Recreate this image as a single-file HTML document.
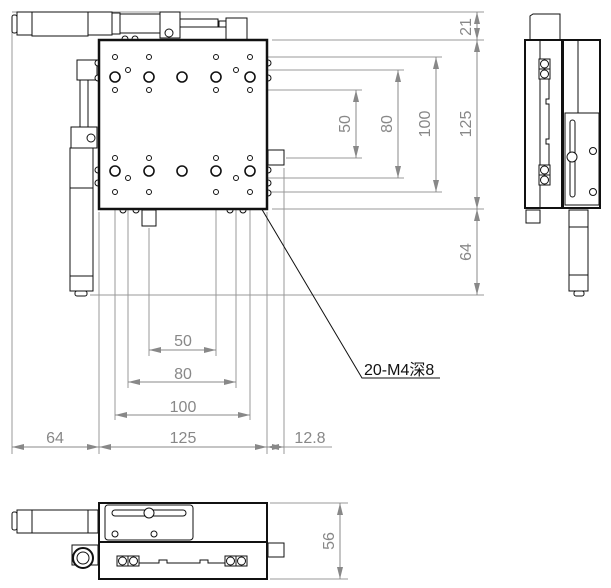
<!DOCTYPE html>
<html><head><meta charset="utf-8"><style>html,body{margin:0;padding:0;background:#fff}svg{display:block}</style></head>
<body>
<svg width="611" height="588" viewBox="0 0 611 588" xmlns="http://www.w3.org/2000/svg">
<defs>
<marker id="a" viewBox="0 0 12 6" refX="12" refY="3" markerWidth="12" markerHeight="6" orient="auto-start-reverse" markerUnits="userSpaceOnUse"><path d="M0,0 L12,3 L0,6 z" fill="#888"/></marker>
</defs>
<g stroke="#999" stroke-width="1" fill="none">
<line x1="12" y1="20" x2="12" y2="454"/>
<line x1="99" y1="212" x2="99" y2="454"/>
<line x1="115" y1="196" x2="115" y2="420"/>
<line x1="128" y1="182" x2="128" y2="388"/>
<line x1="149" y1="228" x2="149" y2="356"/>
<line x1="216" y1="196" x2="216" y2="356"/>
<line x1="236" y1="182" x2="236" y2="388"/>
<line x1="250" y1="196" x2="250" y2="420"/>
<line x1="267" y1="212" x2="267" y2="454"/>
<line x1="284" y1="168" x2="284" y2="454"/>
<line x1="12" y1="12" x2="484" y2="12"/>
<line x1="272" y1="40" x2="484" y2="40"/>
<line x1="254" y1="57" x2="442" y2="57"/>
<line x1="240" y1="70" x2="404" y2="70"/>
<line x1="254" y1="90" x2="362" y2="90"/>
<line x1="286" y1="158" x2="362" y2="158"/>
<line x1="240" y1="178" x2="404" y2="178"/>
<line x1="254" y1="192" x2="442" y2="192"/>
<line x1="272" y1="209" x2="484" y2="209"/>
<line x1="90" y1="295" x2="484" y2="295"/>
<line x1="270" y1="503" x2="348" y2="503"/>
<line x1="270" y1="579" x2="348" y2="579"/>
<line x1="284" y1="447" x2="332" y2="447"/>
</g>
<g stroke="#888" stroke-width="1" fill="none" marker-start="url(#a)" marker-end="url(#a)">
<line x1="149" y1="350" x2="216" y2="350"/>
<line x1="128" y1="382" x2="236" y2="382"/>
<line x1="115" y1="415" x2="250" y2="415"/>
<line x1="12" y1="447" x2="99" y2="447"/>
<line x1="99" y1="447" x2="267" y2="447"/>
<line x1="267" y1="447" x2="284" y2="447"/>
<line x1="356" y1="90" x2="356" y2="158"/>
<line x1="398" y1="70" x2="398" y2="178"/>
<line x1="436" y1="57" x2="436" y2="192"/>
<line x1="477" y1="12" x2="477" y2="40"/>
<line x1="477" y1="40" x2="477" y2="209"/>
<line x1="477" y1="209" x2="477" y2="295"/>
<line x1="340" y1="503" x2="340" y2="579"/>
</g>
<g fill="#888" font-family="'Liberation Sans',sans-serif" font-size="16" text-anchor="middle">
<text x="183" y="346">50</text>
<text x="183" y="379">80</text>
<text x="183" y="412">100</text>
<text x="55" y="443">64</text>
<text x="183" y="443">125</text>
<text x="310" y="443">12.8</text>
<text transform="translate(350,124) rotate(-90)">50</text>
<text transform="translate(392,124) rotate(-90)">80</text>
<text transform="translate(430,124) rotate(-90)">100</text>
<text transform="translate(471,124) rotate(-90)">125</text>
<text transform="translate(471,252) rotate(-90)">64</text>
<text transform="translate(471,27) rotate(-90)">21</text>
<text transform="translate(334,541) rotate(-90)">56</text>
</g>
<polyline points="254,196 362,378 440,378" stroke="#111" fill="none" stroke-width="1"/>
<path d="M254,196 l3,8 l4,-3z" fill="#111"/>
<text x="364" y="375" font-family="'Liberation Sans','Noto Sans CJK SC',sans-serif" font-size="16" fill="#111">20-M4深8</text>
<g stroke="#111" stroke-width="1" fill="#fff">
<rect x="12" y="15" width="5" height="18" rx="2"/>
<rect x="17" y="12" width="15" height="23"/>
<rect x="32" y="12" width="56" height="24"/>
<rect x="88" y="12" width="24" height="23"/>
<rect x="112" y="13" width="8" height="21"/>
<rect x="120" y="14" width="40" height="19"/>
<rect x="160" y="12" width="20" height="26"/>
<circle cx="169" cy="33" r="4"/>
<rect x="180" y="19" width="38" height="8"/>
<rect x="219" y="21" width="7" height="6"/>
<rect x="226" y="18" width="21" height="22"/>
<rect x="77" y="60" width="20" height="20"/>
<rect x="80" y="80" width="8" height="47"/>
<rect x="71" y="127" width="26" height="21"/>
<circle cx="91" cy="138" r="4"/>
<rect x="70" y="148" width="23" height="40"/>
<rect x="70" y="188" width="23" height="88"/>
<rect x="70" y="276" width="23" height="15"/>
<rect x="75" y="291" width="12" height="5" rx="2"/>
<rect x="268" y="150" width="16" height="15"/>
<rect x="142" y="210" width="14" height="16"/>
<!-- edge bumps -->
<circle cx="98" cy="63" r="3"/><circle cx="98" cy="78" r="3"/><circle cx="98" cy="170" r="3"/><circle cx="98" cy="183" r="3"/>
<circle cx="268" cy="63" r="3"/><circle cx="268" cy="78" r="3"/><circle cx="268" cy="170" r="3"/><circle cx="268" cy="183" r="3"/><circle cx="268" cy="193" r="3"/>
<circle cx="123" cy="210" r="3"/><circle cx="136" cy="210" r="3"/><circle cx="230" cy="210" r="3"/><circle cx="243" cy="210" r="3"/>
<circle cx="125" cy="39" r="3"/><circle cx="135" cy="39" r="3"/>
<rect x="99" y="40" width="168" height="169" stroke-width="2.5"/>
</g>
<g stroke="#111" stroke-width="1" fill="none">
<circle cx="115" cy="57" r="2.5"/><circle cx="149" cy="57" r="2.5"/><circle cx="216" cy="57" r="2.5"/><circle cx="250" cy="57" r="2.5"/>
<circle cx="115" cy="90" r="2.5"/><circle cx="149" cy="90" r="2.5"/><circle cx="216" cy="90" r="2.5"/><circle cx="250" cy="90" r="2.5"/>
<circle cx="115" cy="158" r="2.5"/><circle cx="149" cy="158" r="2.5"/><circle cx="216" cy="158" r="2.5"/><circle cx="250" cy="158" r="2.5"/>
<circle cx="115" cy="192" r="2.5"/><circle cx="149" cy="192" r="2.5"/><circle cx="216" cy="192" r="2.5"/><circle cx="250" cy="192" r="2.5"/>
<circle cx="128" cy="70" r="2.5"/><circle cx="236" cy="70" r="2.5"/><circle cx="128" cy="178" r="2.5"/><circle cx="236" cy="178" r="2.5"/>
<g stroke-width="1.6">
<circle cx="115" cy="77" r="5"/><circle cx="149" cy="77" r="5"/><circle cx="182" cy="77" r="5"/><circle cx="216" cy="77" r="5"/><circle cx="250" cy="77" r="5"/>
<circle cx="115" cy="171" r="5"/><circle cx="149" cy="171" r="5"/><circle cx="182" cy="171" r="5"/><circle cx="216" cy="171" r="5"/><circle cx="250" cy="171" r="5"/>
</g>
</g>
<g stroke="#111" stroke-width="1" fill="#fff">
<path d="M533,14 h27 v26 h-30 v-24z"/>
<rect x="525" y="40" width="37" height="168" stroke-width="2"/>
<rect x="563" y="40" width="37" height="168" stroke-width="2"/>
<line x1="540" y1="40" x2="540" y2="208"/>
<line x1="578" y1="40" x2="578" y2="113"/>
<path d="M549,79 v20 h-3 v5 h3 v35 h-3 v5 h3 v21" fill="none"/>
<rect x="539" y="59" width="11" height="10"/><circle cx="544.5" cy="64" r="4"/>
<rect x="539" y="69" width="11" height="10"/><circle cx="544.5" cy="74" r="4"/>
<rect x="539" y="165" width="11" height="10"/><circle cx="544.5" cy="170" r="4"/>
<rect x="539" y="175" width="11" height="10"/><circle cx="544.5" cy="180" r="4"/>
<rect x="565" y="113" width="34" height="92"/>
<rect x="570" y="120" width="5" height="77" rx="2.5"/>
<circle cx="572" cy="157" r="5"/>
<circle cx="593" cy="151" r="3.5"/><circle cx="593" cy="192" r="3.5"/>
<rect x="526" y="210" width="14" height="13"/>
<rect x="569" y="210" width="19" height="17"/>
<rect x="569" y="227" width="19" height="48"/>
<rect x="569" y="275" width="19" height="16"/>
<rect x="574" y="291" width="10" height="5" rx="2"/>
</g>
<g stroke="#111" stroke-width="1" fill="#fff">
<rect x="12" y="512" width="5" height="18" rx="2"/>
<rect x="17" y="510" width="15" height="23"/>
<rect x="32" y="510" width="56" height="23"/>
<rect x="88" y="510" width="10" height="23"/>
<rect x="72" y="545" width="26" height="20"/>
<circle cx="83" cy="558" r="10" stroke-width="2"/>
<circle cx="83" cy="558" r="6"/>
<rect x="268" y="543" width="16" height="14"/>
<rect x="99" y="503" width="168" height="39" stroke-width="2"/>
<rect x="99" y="542" width="168" height="37" stroke-width="2"/>
<rect x="105" y="505" width="88" height="35" rx="3"/>
<rect x="112" y="510" width="74" height="6" rx="3"/>
<circle cx="149" cy="513" r="5"/>
<circle cx="115" cy="534" r="3"/><circle cx="154" cy="534" r="3"/>
<rect x="117" y="556" width="11" height="10"/><circle cx="122.5" cy="561" r="4"/>
<rect x="128" y="556" width="11" height="10"/><circle cx="133.5" cy="561" r="4"/>
<rect x="225" y="556" width="11" height="10"/><circle cx="230.5" cy="561" r="4"/>
<rect x="236" y="556" width="11" height="10"/><circle cx="241.5" cy="561" r="4"/>
<path d="M139,563 h20 v-3 h8 v3 h33 v-3 h8 v3 h17" fill="none"/>
</g>
</svg>
</body></html>
